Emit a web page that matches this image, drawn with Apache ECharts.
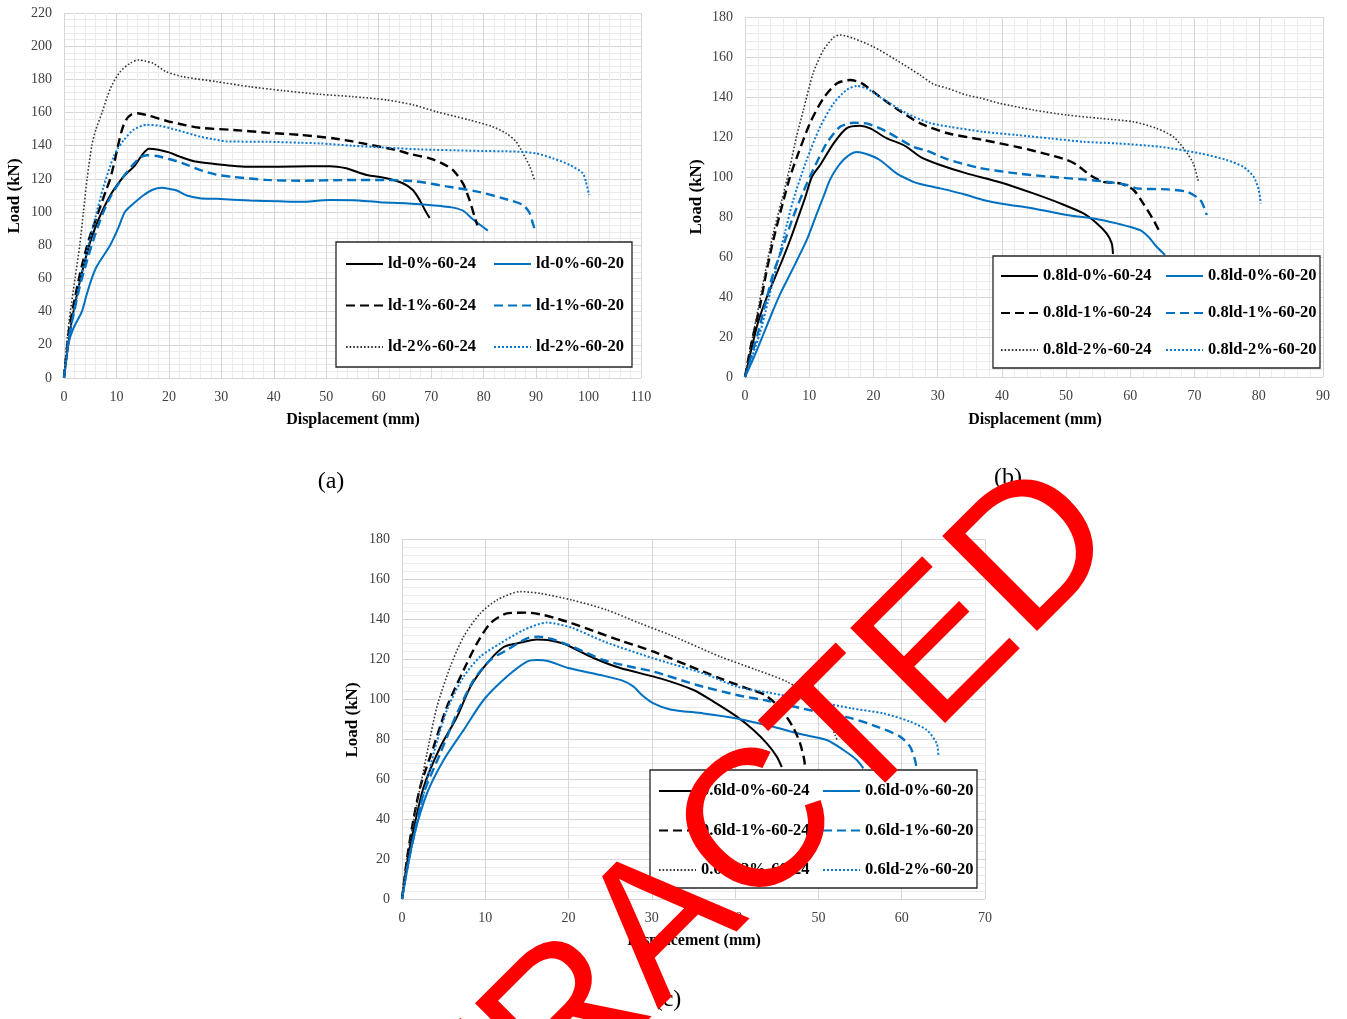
<!DOCTYPE html>
<html>
<head>
<meta charset="utf-8">
<title>Load–displacement curves</title>
<script src="https://cdn.jsdelivr.net/npm/echarts@6.0.0/dist/echarts.min.js"></script>
<style>
  html, body { margin: 0; padding: 0; background: #ffffff; }
  #chart { width: 1347px; height: 1019px; }
</style>
</head>
<body>
<div id="chart"></div>
<script>
// Load–displacement curves, each point is [displacement (mm), load (kN)].

// (a) ld specimens
const a_0_24 = [[0,0],[0.6,15],[1.5,35],[3,58],[4.8,80],[6,91],[7.2,100],[9,111],[11,120],[12.3,124.4],[13.5,128],[15,135],[16.2,138.2],[18,137.6],[20,136],[22.1,133.4],[25,130.5],[28.4,129.2],[32,128],[35,127.4],[41,127.4],[47,127.6],[50.7,127.6],[53.8,126.4],[55.5,124.6],[57.7,122.4],[61.5,120.4],[64.6,117.4],[66.5,113.3],[67.8,107.3],[68.8,101.3],[69.7,96.5]];
const a_0_20 = [[0,0],[0.8,20],[1.8,30],[3.4,40],[4.3,50],[5.3,60],[6.2,67],[7.8,75],[8.8,80],[10.3,90],[11.6,100],[13.2,105],[15.1,110],[17,113.6],[18.6,114.6],[20,114],[21.5,113],[23.4,110],[25.9,108.4],[29.1,108],[35.4,107],[41.1,106.5],[45,106.2],[50.7,107.3],[55,107.2],[60.2,106],[67.8,104.8],[72,103.6],[74.2,102.7],[76.1,100.8],[78,95.5],[80.8,88.8]];
const a_1_24 = [[0,0],[0.5,16],[1,30],[2,47],[3,62],[4,75],[5,86],[6,95],[7,104],[8,113],[8.8,120],[9.6,130],[10.3,140],[11,149],[11.8,155.5],[12.9,159],[14,159.6],[16.3,158],[19.5,155],[22.1,153.1],[25.9,150.8],[32.3,149.5],[38.6,147.9],[45,146.5],[51.3,144.5],[55,142.6],[57,141.4],[61.5,138.6],[63.4,137.4],[66,135],[69.7,132.4],[72,129.5],[74.2,125.2],[76.1,117],[77.3,107.3],[78.3,97],[78.8,92]];
const a_1_20 = [[0,0],[0.8,22],[1.8,38],[3,55],[4.5,72],[6,87],[7.5,100],[9,110],[11,120],[13,128],[14.5,132.8],[15.8,134.3],[17.7,133.8],[20,132],[22.7,129.4],[25.9,125.4],[29,122.6],[32.3,121.2],[38.6,119.4],[45,118.9],[53.8,119.3],[61.5,119.3],[65.3,118.9],[67.8,118.3],[72.9,115.5],[78.6,112.5],[83.7,108.3],[87.5,104.3],[88.8,99.3],[89.4,93],[89.7,90]];
const a_2_24 = [[0,0],[0.5,20],[1,35],[2.1,60],[3,80],[3.7,100],[4.4,120],[5.3,140],[6.1,150],[7.2,159.5],[8.3,170],[9.2,177],[10.7,184.6],[12.6,189.7],[14.2,191.7],[15.5,191],[17,189.7],[19.5,184.6],[22.7,181.6],[29.1,178.6],[35.4,175.6],[41.8,173.2],[48.8,171],[55,169.6],[61.5,167.6],[66.6,164.6],[71,160.5],[77.3,155.5],[81.7,151.5],[84.3,147.5],[86.2,142.4],[87.5,135.4],[88.8,127.4],[89.7,119.3]];
const a_2_20 = [[0,0],[1,25],[2,42],[3,58],[4.5,78],[6,97],[7.5,115],[9.4,133],[10.3,138.5],[11.3,143],[13.2,149.5],[15.7,152.6],[18.3,152],[21.5,149.5],[25.9,145.5],[28.4,144],[31,142.6],[38.6,142.4],[45,141.8],[48.8,141.4],[55,140],[61.5,138.8],[67.8,137.8],[77.3,137],[86.8,136.4],[90,135.4],[93.2,132.4],[96.4,128.4],[98.9,123.4],[99.5,118.3],[100.1,110.3]];

// (b) 0.8ld specimens
const b_0_24 = [[0,0],[1,14],[2,27],[3.4,40],[4.7,50],[6,60],[7.2,70],[8.3,80],[9.4,90],[10.4,100],[11.7,106],[13.8,116.8],[15.8,124.3],[17.9,125.6],[19.5,124.3],[22.1,119.3],[24.1,116.8],[25.2,115],[27.3,110.1],[30.4,106],[34.5,101.8],[39.7,97.4],[44.9,91.8],[49.1,86.8],[52.7,81.8],[54.8,76.8],[56.3,71.8],[57.1,66.8],[57.3,61.5]];
const b_0_20 = [[0,0],[1.4,10],[2.9,21.7],[4.2,32],[5.5,41.7],[6.8,50],[8.1,58.4],[9.6,68.4],[11.2,81.8],[12.2,90],[13.2,98.4],[14.2,104],[15.3,108.5],[16.5,111.6],[17.4,112.5],[18.9,111.5],[21,108.5],[23.6,101.8],[26.2,97.6],[27.3,96.5],[30.4,94.3],[34,91.5],[37.1,88.5],[40.2,86.5],[44.9,84.3],[50.1,81],[54.3,79.3],[57.9,76.8],[61.5,73.5],[62.8,70.1],[64.1,65.1],[65.4,61]];
const b_1_24 = [[0,0],[1,17],[2.3,35],[3.3,52],[4.4,68.4],[6,88.4],[7,100],[8.1,110.1],[10.1,126.8],[12.2,139.3],[14.3,146.8],[16.4,148.5],[18.2,146.8],[21,140.1],[24.1,133],[27.3,126.8],[31.4,122],[37.1,118.5],[42.3,115.1],[47.5,111],[50.1,108.5],[51.7,106],[53.7,101],[55.8,97.6],[58.4,96.8],[60.5,93.5],[62,86.8],[63.6,78.5],[64.5,73]];
const b_1_20 = [[0,0],[2,21.7],[3.2,37],[4.4,51.8],[6,66],[7.5,80.1],[9,92],[10.6,103.5],[12.7,116.8],[14.8,125.1],[16.9,127.1],[18.9,126.8],[22.1,122.6],[26.2,115.1],[28.3,113.2],[31.4,109],[36.6,104.5],[42.3,101.8],[47.5,100.1],[52.7,98.8],[56.3,97.6],[59.5,96],[61,94.3],[65.7,93.8],[68.8,92.6],[70.9,88.5],[71.9,81]];
const b_2_24 = [[0,0],[1.8,30],[3,50],[4.4,71.9],[5.7,88],[7,105.1],[8,120],[9.1,133.5],[10.6,151.8],[12.2,163.4],[13.8,169.8],[14.8,171],[16.9,169.3],[20,165.1],[23.6,158.4],[27.3,150.9],[29.3,146.5],[31.4,144.5],[34.5,141],[36.6,139.5],[39.7,136.8],[44.9,133.5],[50.1,131],[55.3,129.3],[60.5,127.6],[64.1,124.3],[66.7,120.1],[68.5,113.5],[69.8,106.8],[70.6,97.6]];
const b_2_20 = [[0,0],[2.3,21.7],[3.6,38],[4.9,55.1],[6.2,72],[7.5,88.4],[9.6,108.5],[11.7,125.1],[13.8,136.8],[15.8,143.5],[17.4,145.5],[18.9,144.3],[21,140],[25.2,131.8],[28.8,127],[31.9,125.1],[37.1,122.6],[42.3,121],[47.5,119.3],[52.7,117.6],[57.9,116.8],[64.6,115.1],[70.9,111.8],[75,108.5],[77.6,105.1],[79.2,100.1],[80,93.5],[80.3,86.8]];

// (c) 0.6ld specimens
const c_0_24 = [[0,0],[0.5,15],[1.2,31],[2.6,56],[4.6,76],[6.6,91],[8.2,106],[10.2,117.8],[12.2,126],[13.8,127.8],[16.2,129.8],[17.5,129.5],[19.5,127.5],[23,120.5],[26.2,115.5],[31,110.3],[35,104.5],[37.4,98.7],[40.2,91.2],[42.2,84.5],[43.8,77.8],[45,71.2],[45.6,66]];
const c_0_20 = [[0,0],[0.6,14],[1.4,31],[3,52.8],[5,69.5],[7.4,84.5],[9.8,99.5],[12.6,111.2],[15,118.7],[16.2,119.5],[17.5,119],[20,115.5],[23.8,112],[26.4,109.3],[27.8,106.2],[28.8,102],[30.2,97.8],[32.2,94.8],[36.2,92.8],[40.2,90.3],[44.2,86.5],[47.8,82.5],[51,79.5],[53,74.5],[54.6,69.5],[55.4,65.3]];
const c_1_24 = [[0,0],[0.6,20],[1.3,38],[2.2,56.2],[3.8,76.2],[5.4,96.2],[7.4,114.5],[9,127.8],[10.6,137.8],[12.6,142.8],[15,143.2],[17,142],[19.8,138.7],[23,134],[26.4,129],[30.2,123.7],[34.2,117],[38.2,110.3],[41.4,105.3],[43.6,102],[45.6,94.5],[47,85.5],[47.8,77.8],[48.3,69.5],[48.4,64.5]];
const c_1_20 = [[0,0],[0.6,15],[1.4,31],[2.6,52.8],[4.6,72.8],[6.6,92.8],[8.6,109.5],[10.6,119.5],[12.6,124.5],[15,130.3],[16.4,131.2],[18,130],[20,127],[24.2,119.5],[27,116.5],[30.2,113.7],[35.4,107],[40.2,102],[44,99],[49.8,93.7],[54,90.3],[57,86.2],[59.8,81.2],[61,76.2],[61.6,69.5],[61.8,65]];
const c_2_24 = [[0,0],[0.6,20],[1.8,47.8],[3,72.8],[4.2,96.2],[5.8,116.2],[7.4,131.2],[9.4,142.8],[11.4,149.5],[14.2,153.7],[16.6,152.8],[20.4,149.5],[24.6,144.5],[28.6,137.8],[32.2,132],[38.2,121.2],[42.6,114.5],[46.2,108.7],[49,101.2],[51,91.8],[52,82],[52.3,79]];
const c_2_20 = [[0,0],[0.6,15],[1.5,32],[2.6,52],[3.8,72.8],[5.4,94.5],[7.4,111.2],[9.4,121.2],[11.8,127.8],[14.6,134.5],[17.4,138.2],[20.4,135.6],[24.4,128.5],[30.2,120.3],[36.2,112.8],[40.2,106.2],[44,103.2],[49.8,98.7],[54,95.3],[57.8,92.8],[61,88.7],[63,84.5],[64.2,77.8],[64.4,72]];

// Specimen naming: fibre content and the two test series
const fibreContents = ['0%', '1%', '2%'];
const testSeries = ['60-24', '60-20'];

// Line styles: solid / dashed / dotted by fibre content, black / blue by series
const lineStyles = {
  '0%':  { '60-24': { color: '#000000', width: 2,   type: 'solid' },
           '60-20': { color: '#0070c0', width: 2,   type: 'solid' } },
  '1%':  { '60-24': { color: '#000000', width: 2.4, type: [9, 5] },
           '60-20': { color: '#0070c0', width: 2.4, type: [9, 5] } },
  '2%':  { '60-24': { color: '#333333', width: 1.6, type: [1.6, 2] },
           '60-20': { color: '#0a78d0', width: 2,   type: [2, 2] } }
};

const panels = [
  { prefix: 'ld', curves: { '0%': [a_0_24, a_0_20], '1%': [a_1_24, a_1_20], '2%': [a_2_24, a_2_20] },
    grid: { left: 64, top: 13, width: 577, height: 365 }, xMax: 110, yMax: 220, xMinor: true,
    box: [336, 242, 296, 125], cols: [345, 493], row1: 262, rowStep: 41.5,
    yName: [15, 196], xName: [353, 420], caption: ['(a)', 331, 482] },
  { prefix: '0.8ld', curves: { '0%': [b_0_24, b_0_20], '1%': [b_1_24, b_1_20], '2%': [b_2_24, b_2_20] },
    grid: { left: 745, top: 17, width: 578, height: 360 }, xMax: 90, yMax: 180, xMinor: true,
    box: [993, 256, 327, 112], cols: [1000, 1165], row1: 274, rowStep: 37,
    yName: [697, 197], xName: [1035, 420], caption: ['(b)', 1008, 478] },
  { prefix: '0.6ld', curves: { '0%': [c_0_24, c_0_20], '1%': [c_1_24, c_1_20], '2%': [c_2_24, c_2_20] },
    grid: { left: 402, top: 539, width: 583, height: 360 }, xMax: 70, yMax: 180, xMinor: false,
    box: [650, 770, 327, 118], cols: [658, 822], row1: 789, rowStep: 39.5,
    yName: [353, 720], xName: [694, 941], caption: ['(c)', 668, 1000] }
];

const SERIF = '"Liberation Serif", "Times New Roman", serif';
const tickLabel = { fontFamily: SERIF, fontSize: 14, color: '#404040', margin: 12 };
const majorGrid = { show: true, lineStyle: { color: '#d6d6d6', width: 1 } };
const minorGrid = { color: '#ebebeb', width: 1 };

const grids = [], xAxes = [], yAxes = [], series = [], legends = [], graphics = [];

panels.forEach((p, i) => {
  grids.push(Object.assign({ outerBoundsMode: 'none', containLabel: false }, p.grid));
  xAxes.push({
    type: 'value', gridIndex: i, min: 0, max: p.xMax, interval: 10,
    axisLine: { show: false }, axisTick: { show: false },
    axisLabel: Object.assign({ showMaxLabel: true, showMinLabel: true }, tickLabel),
    splitLine: majorGrid,
    minorTick: { show: false, splitNumber: 5 },
    minorSplitLine: { show: p.xMinor, lineStyle: minorGrid }
  });
  yAxes.push({
    type: 'value', gridIndex: i, min: 0, max: p.yMax, interval: 20,
    axisLine: { show: false }, axisTick: { show: false },
    axisLabel: Object.assign({ showMaxLabel: true, showMinLabel: true }, tickLabel),
    splitLine: majorGrid,
    minorTick: { show: false, splitNumber: 5 },
    minorSplitLine: { show: true, lineStyle: minorGrid }
  });

  const colNames = [[], []];
  fibreContents.forEach(f => {
    testSeries.forEach((t, k) => {
      const name = p.prefix + '-' + f + '-' + t;
      colNames[k].push(name);
      series.push({
        type: 'line', name: name, xAxisIndex: i, yAxisIndex: i,
        data: p.curves[f][k], symbol: 'none', smooth: 0.25,
        lineStyle: lineStyles[f][t], itemStyle: { color: lineStyles[f][t].color },
        z: 2, silent: true
      });
    });
  });

  // legend frame
  graphics.push({
    type: 'rect', z: 5,
    shape: { x: p.box[0], y: p.box[1], width: p.box[2], height: p.box[3] },
    style: { fill: '#ffffff', stroke: '#262626', lineWidth: 1.3 }
  });
  colNames.forEach((names, k) => {
    legends.push({
      orient: 'vertical', left: p.cols[k], top: p.row1 - 8, padding: 0,
      itemGap: p.rowStep - 20, itemWidth: 37, itemHeight: 14,
      selectedMode: false, z: 10, data: names,
      itemStyle: { opacity: 0, color: 'rgba(0,0,0,0)', borderWidth: 0 },
      textStyle: { fontFamily: SERIF, fontWeight: 'bold', fontSize: 16.5, color: '#000000', lineHeight: 20 }
    });
  });

  // axis titles and panel caption
  graphics.push({
    type: 'text', x: p.yName[0], y: p.yName[1], rotation: Math.PI / 2, z: 6,
    style: { text: 'Load (kN)', font: 'bold 17px ' + SERIF, fill: '#000000', textAlign: 'center', textVerticalAlign: 'middle' }
  });
  graphics.push({
    type: 'text', x: p.xName[0], y: p.xName[1], z: 6,
    style: { text: 'Displacement (mm)', font: 'bold 16px ' + SERIF, fill: '#000000', textAlign: 'center', textVerticalAlign: 'middle' }
  });
  graphics.push({
    type: 'text', x: p.caption[1], y: p.caption[2], z: 6,
    style: { text: p.caption[0], font: '24px ' + SERIF, fill: '#000000', textAlign: 'center', textVerticalAlign: 'middle' }
  });
});

// diagonal stamp across the figure
graphics.push({
  type: 'text', x: 666, y: 926, rotation: Math.PI / 4, z: 50,
  style: { text: 'RETRACTED', font: '195px "Liberation Sans", Arial, sans-serif', fill: '#ff0000', textAlign: 'center', textVerticalAlign: 'middle' }
});

const chart = echarts.init(document.getElementById('chart'), null, { renderer: 'canvas' });
chart.setOption({
  animation: false,
  backgroundColor: '#ffffff',
  grid: grids,
  xAxis: xAxes,
  yAxis: yAxes,
  legend: legends,
  series: series,
  graphic: { elements: graphics }
});
</script>
</body>
</html>
